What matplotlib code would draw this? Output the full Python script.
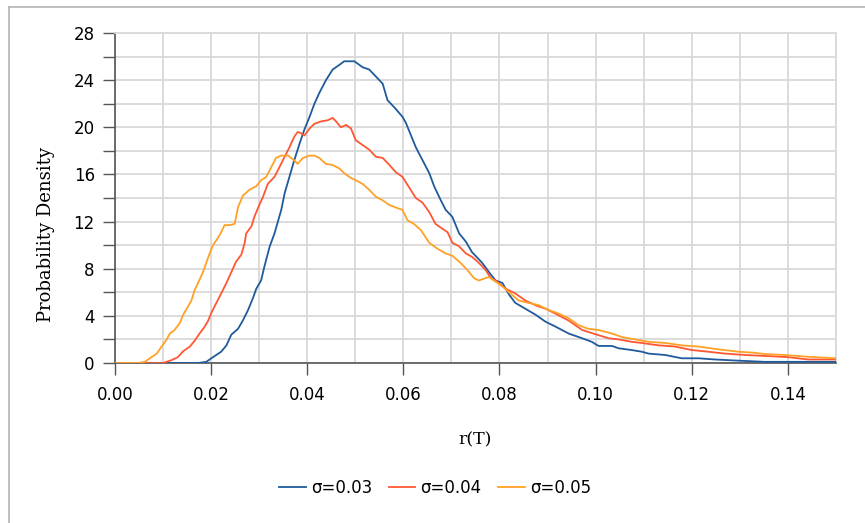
import numpy as np
import matplotlib
matplotlib.use("Agg")
import matplotlib.pyplot as plt
from matplotlib.lines import Line2D
from matplotlib.ticker import MultipleLocator, FormatStrFormatter

# curves
x_03 = [0, 0.0173, 0.019, 0.0204, 0.0221, 0.0232, 0.0242, 0.0256, 0.0266, 0.0277, 0.0287, 0.0294,
        0.0304, 0.0311, 0.0322, 0.0332, 0.0339, 0.0346, 0.0353, 0.0363, 0.0373, 0.0384, 0.0394,
        0.0405, 0.0415, 0.0425, 0.0439, 0.0453, 0.0467, 0.0477, 0.0488, 0.0498, 0.0505, 0.0515,
        0.0529, 0.0543, 0.0557, 0.0567, 0.0581, 0.0598, 0.0605, 0.0616, 0.0626, 0.064, 0.0654,
        0.0664, 0.0678, 0.0688, 0.0702, 0.0716, 0.073, 0.0743, 0.0764, 0.0782, 0.0792, 0.0806,
        0.082, 0.0833, 0.0854, 0.0875, 0.0896, 0.0916, 0.0944, 0.0972, 0.0992, 0.1006, 0.1034,
        0.1048, 0.1075, 0.1096, 0.111, 0.1145, 0.1179, 0.1214, 0.1248, 0.1297, 0.1352, 0.1394, 0.15]
y_03 = [0, 0, 0.1, 0.5, 0.96, 1.5, 2.4, 2.9, 3.6, 4.5, 5.5, 6.3,
        7.0, 8.2, 9.9, 11.0, 12.0, 13.0, 14.4, 15.8, 17.2, 18.6, 19.8,
        20.9, 22.0, 22.9, 24.0, 24.9, 25.3, 25.6, 25.6, 25.6, 25.4, 25.1,
        24.9, 24.3, 23.7, 22.3, 21.7, 20.9, 20.4, 19.3, 18.3, 17.2, 16.1,
        15.0, 13.8, 13.0, 12.4, 11.0, 10.3, 9.4, 8.5, 7.5, 7.0, 6.8,
        5.8, 5.1, 4.6, 4.1, 3.5, 3.1, 2.5, 2.1, 1.8, 1.45, 1.45,
        1.25, 1.1, 0.96, 0.8, 0.68, 0.4, 0.4, 0.3, 0.2, 0.1, 0.1, 0.1]

x_04 = [0, 0.01, 0.0118, 0.0131, 0.0142, 0.0156, 0.0166, 0.0176, 0.0187, 0.0194, 0.0201, 0.0211,
        0.0221, 0.0232, 0.0242, 0.0252, 0.0263, 0.027, 0.0273, 0.0284, 0.029, 0.0297, 0.0308,
        0.0318, 0.0332, 0.0342, 0.0353, 0.0363, 0.0373, 0.038, 0.0387, 0.0394, 0.0405, 0.0415,
        0.0429, 0.0443, 0.0453, 0.046, 0.047, 0.0481, 0.0491, 0.0501, 0.0515, 0.0529, 0.0543,
        0.0557, 0.0571, 0.0584, 0.0598, 0.0612, 0.0626, 0.064, 0.0654, 0.0667, 0.0681, 0.0692,
        0.0702, 0.0716, 0.073, 0.0743, 0.0757, 0.0771, 0.0782, 0.0792, 0.0813, 0.0833, 0.0854,
        0.0875, 0.0896, 0.0916, 0.0944, 0.0972, 0.0999, 0.1027, 0.1048, 0.1075, 0.1096, 0.1131,
        0.1165, 0.12, 0.1234, 0.1269, 0.1311, 0.1352, 0.14, 0.1442, 0.15]
y_04 = [0, 0, 0.25, 0.5, 1.0, 1.4, 1.9, 2.5, 3.1, 3.6, 4.3, 5.1,
        5.9, 6.8, 7.7, 8.6, 9.2, 10.2, 11.0, 11.6, 12.4, 13.1, 14.1,
        15.2, 15.8, 16.6, 17.5, 18.3, 19.2, 19.6, 19.5, 19.3, 19.9, 20.3,
        20.5, 20.6, 20.8, 20.5, 20.0, 20.2, 19.9, 18.9, 18.5, 18.1, 17.5,
        17.4, 16.8, 16.2, 15.8, 14.9, 14.0, 13.6, 12.8, 11.8, 11.4, 11.1,
        10.2, 9.9, 9.3, 9.0, 8.5, 7.9, 7.2, 7.0, 6.3, 5.9, 5.3,
        4.9, 4.6, 4.2, 3.6, 2.8, 2.45, 2.1, 2.0, 1.8, 1.7, 1.5,
        1.4, 1.1, 0.96, 0.8, 0.68, 0.6, 0.5, 0.3, 0.3]

x_05 = [0, 0.0048, 0.0062, 0.0076, 0.0087, 0.0097, 0.0107, 0.0114, 0.0124, 0.0135, 0.0142, 0.0152,
        0.0159, 0.0166, 0.0173, 0.0183, 0.019, 0.0197, 0.0204, 0.0214, 0.0221, 0.0228, 0.0239,
        0.0249, 0.0256, 0.0266, 0.028, 0.0294, 0.0304, 0.0315, 0.0325, 0.0335, 0.0346, 0.036,
        0.0373, 0.038, 0.0391, 0.0405, 0.0415, 0.0425, 0.0439, 0.0453, 0.0467, 0.0477, 0.0491,
        0.0501, 0.0515, 0.0529, 0.0543, 0.0557, 0.0571, 0.0584, 0.0598, 0.0609, 0.0622, 0.0636,
        0.0654, 0.0671, 0.0688, 0.0702, 0.0719, 0.0733, 0.0747, 0.0757, 0.0778, 0.0792, 0.0806,
        0.082, 0.084, 0.0861, 0.0882, 0.0902, 0.0923, 0.0944, 0.0965, 0.0985, 0.1006, 0.1034,
        0.1055, 0.1089, 0.111, 0.1145, 0.1179, 0.1214, 0.1248, 0.1297, 0.1331, 0.1352, 0.1394,
        0.1442, 0.15]
y_05 = [0, 0, 0.1, 0.5, 0.8, 1.4, 1.95, 2.5, 2.8, 3.4, 4.1, 4.8,
        5.3, 6.2, 6.8, 7.7, 8.5, 9.3, 10.0, 10.6, 11.1, 11.7, 11.7,
        11.8, 13.2, 14.2, 14.7, 15.0, 15.5, 15.8, 16.6, 17.4, 17.6, 17.6,
        17.2, 16.9, 17.4, 17.6, 17.6, 17.4, 16.9, 16.8, 16.5, 16.1, 15.7,
        15.5, 15.2, 14.7, 14.1, 13.8, 13.4, 13.2, 13.0, 12.1, 11.8, 11.3,
        10.2, 9.7, 9.3, 9.1, 8.5, 7.9, 7.2, 7.0, 7.3, 6.9, 6.5,
        6.0, 5.3, 5.1, 4.9, 4.5, 4.2, 3.8, 3.2, 2.9, 2.8, 2.5,
        2.2, 1.95, 1.8, 1.7, 1.5, 1.4, 1.2, 0.96, 0.87, 0.76, 0.68,
        0.53, 0.4]

labels = ["σ=0.03", "σ=0.04", "σ=0.05"]
colors = ["#1f5b9c", "#ff5733", "#ffa126"]

fig = plt.figure(figsize=(8.65, 5.23), dpi=100)
ax = fig.add_axes([0.1329, 0.3059, 0.8335, 0.631])

for xs, ys, lab, c in zip([x_03, x_04, x_05], [y_03, y_04, y_05], labels, colors):
    ax.plot(xs, ys, color=c, lw=1.3, label=lab, zorder=3)

ax.set_xlim(0, 0.15)
ax.set_ylim(0, 28)
ax.xaxis.set_major_locator(MultipleLocator(0.02))
ax.xaxis.set_minor_locator(MultipleLocator(0.01))
ax.xaxis.set_major_formatter(FormatStrFormatter("%.2f"))
ax.yaxis.set_major_locator(MultipleLocator(4))
ax.yaxis.set_minor_locator(MultipleLocator(2))
ax.grid(which="both", color="#d9d9d9", lw=1.3, zorder=0)
ax.set_axisbelow(True)
ax.tick_params(axis="x", which="major", length=8.5, width=1, color="#555555",
               labelsize=12, pad=8)
ax.tick_params(axis="x", which="minor", length=0)
ax.tick_params(axis="y", which="both", length=8.5, width=1, color="#555555",
               labelsize=12, pad=6)
for s in ["top", "right"]:
    ax.spines[s].set_color("#d9d9d9")
    ax.spines[s].set_linewidth(1.3)
for s in ["left", "bottom"]:
    ax.spines[s].set_color("#555555")
    ax.spines[s].set_linewidth(1.2)

ax.set_xlabel("r(T)", family="DejaVu Serif", fontsize=12.5, labelpad=20)
ax.set_ylabel("Probability Density", family="DejaVu Serif", fontsize=13)
ax.yaxis.set_label_coords(-0.083, 0.39)

fig.legend(loc="center", bbox_to_anchor=(0.503, 0.067), ncol=3, frameon=False,
           fontsize=12, handlelength=1.6, handletextpad=0.3, columnspacing=1.0)

# border of the chart area
fig.add_artist(Line2D([9 / 865, 9 / 865], [0, 1 - 7 / 523], transform=fig.transFigure,
                      color="#b4b4b4", lw=1.2))
fig.add_artist(Line2D([9 / 865, 1], [1 - 7 / 523, 1 - 7 / 523], transform=fig.transFigure,
                      color="#b4b4b4", lw=1.2))

fig.savefig("out.png", dpi=100)
